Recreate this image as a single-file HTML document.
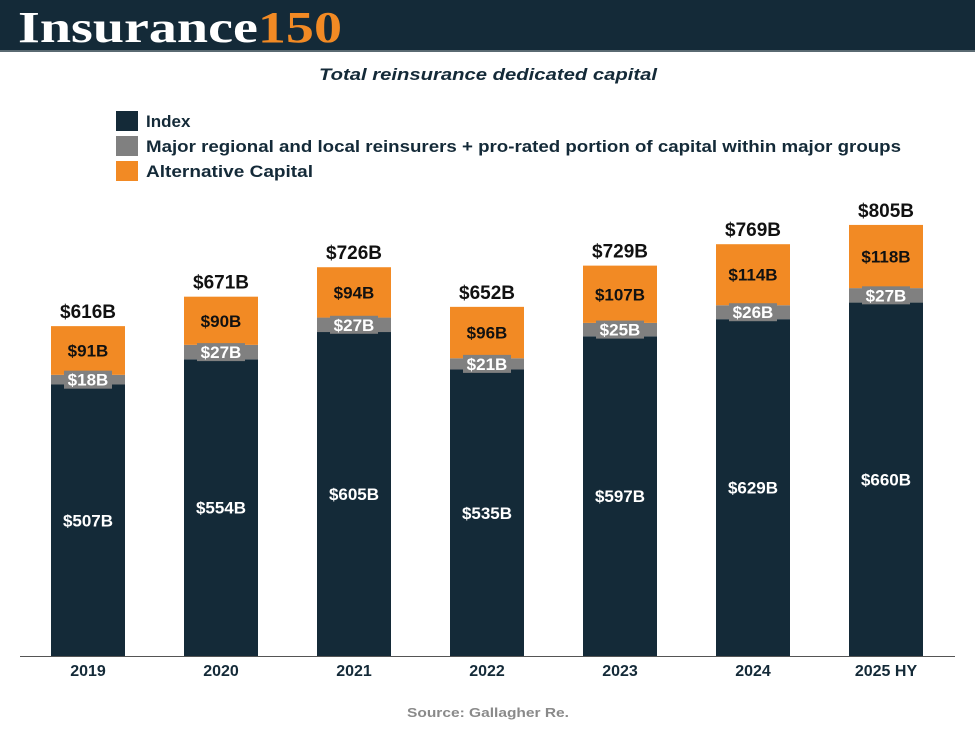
<!DOCTYPE html>
<html><head><meta charset="utf-8"><style>
body{margin:0;background:#fff;width:975px;height:731px;overflow:hidden;font-family:"Liberation Sans",sans-serif}
</style></head><body>
<svg width="975" height="731" font-family="Liberation Sans, sans-serif">
<rect x="0" y="0" width="975" height="50" fill="#142a38"/>
<rect x="0" y="50" width="975" height="2" fill="#5a6a72"/>
<text x="18" y="42" font-family="Liberation Serif, serif" font-weight="bold" font-size="44" fill="#fff" textLength="324" lengthAdjust="spacingAndGlyphs">Insurance<tspan fill="#f28a24">150</tspan></text>
<text x="488" y="80" text-anchor="middle" font-style="italic" font-weight="bold" font-size="17" fill="#142a38" textLength="338" lengthAdjust="spacingAndGlyphs">Total reinsurance dedicated capital</text>
<g font-weight="bold" font-size="17" fill="#142a38">
<rect x="116" y="111" width="22" height="20" fill="#142a38"/>
<text x="146" y="127">Index</text>
<rect x="116" y="136" width="22" height="20" fill="#808080"/>
<text x="146" y="152" textLength="755" lengthAdjust="spacingAndGlyphs">Major regional and local reinsurers + pro-rated portion of capital within major groups</text>
<rect x="116" y="161" width="22" height="20" fill="#f28a24"/>
<text x="146" y="177" textLength="167" lengthAdjust="spacingAndGlyphs">Alternative Capital</text>
</g>
<g id="bars"></g>
<line x1="20" y1="656.5" x2="955" y2="656.5" stroke="#555" stroke-width="1"/>
<text x="488" y="717" text-anchor="middle" font-weight="bold" font-size="13" fill="#8a8a8a" textLength="162" lengthAdjust="spacingAndGlyphs">Source: Gallagher Re.</text>
</svg>
<script>
const categories=["2019","2020","2021","2022","2023","2024","2025 HY"];
const indexVals=[507,554,605,535,597,629,660];
const regionalVals=[18,27,27,21,25,26,27];
const altVals=[91,90,94,96,107,114,118];
const totals=[616,671,726,652,729,769,805];
const NS="http://www.w3.org/2000/svg";
const g=document.getElementById('bars');
const base=656, k=0.5355, x0=88, step=133, bw=74;
const y=v=>base-v*k;
const xc=i=>x0+i*step;
function mk(tag,attrs){const e=document.createElementNS(NS,tag);for(const a in attrs)e.setAttribute(a,attrs[a]);g.appendChild(e);return e;}
categories.forEach((c,i)=>{
  const cx=xc(i);
  const a=indexVals[i],b=regionalVals[i],d=altVals[i];
  const r1=mk('rect',{x:cx-bw/2,y:y(a),width:bw,height:a*k,fill:'#142a38'});
  
  
  const r2=mk('rect',{x:cx-bw/2,y:y(a+b),width:bw,height:b*k,fill:'#808080'});
  
  
  const r3=mk('rect',{x:cx-bw/2,y:y(a+b+d),width:bw,height:d*k,fill:'#f28a24'});
  
  
  const t1=mk('text',{x:cx,y:y(a/2)+6,'text-anchor':'middle','font-weight':'bold','font-size':17,fill:'#fff'});
  t1.textContent='$'+a+'B';
  
  
  const my=y(a+b/2);
  const bg=mk('rect',{x:cx-24,y:my-9,width:48,height:18,fill:'#808080'});
  
  
  const t2=mk('text',{x:cx,y:my+6,'text-anchor':'middle','font-weight':'bold','font-size':17,fill:'#fff'});
  t2.textContent='$'+b+'B';
  
  
  const t3=mk('text',{x:cx,y:y(a+b+d/2)+6,'text-anchor':'middle','font-weight':'bold','font-size':17,fill:'#111'});
  t3.textContent='$'+d+'B';
  
  
  const t4=mk('text',{x:cx,y:y(totals[i])-8,'text-anchor':'middle','font-weight':'bold','font-size':19,fill:'#111'});
  t4.textContent='$'+totals[i]+'B';
  
  
  const t5=mk('text',{x:cx,y:676,'text-anchor':'middle','font-weight':'bold','font-size':16,fill:'#142a38'});
  t5.textContent=c;
  
  
});
</script>
</body></html>
